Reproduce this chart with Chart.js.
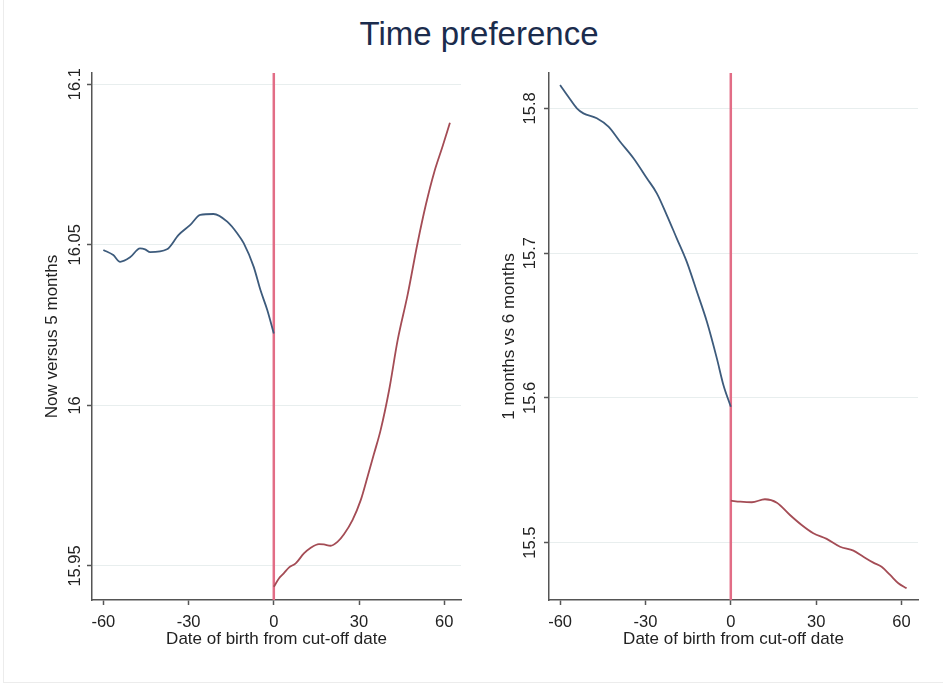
<!DOCTYPE html>
<html>
<head>
<meta charset="utf-8">
<script src="https://cdn.jsdelivr.net/npm/chart.js@4.4.1/dist/chart.umd.min.js"></script>
<style>
html, body { margin: 0; padding: 0; background: #fff; }
#wrap { position: relative; width: 943px; height: 687px; overflow: hidden; }
#frame { position: absolute; left: 3px; top: -2px; width: 945px; height: 685px; border: 1px solid #ececec; box-sizing: border-box; }
canvas { position: absolute; left: 0; top: 0; }
#title { position: absolute; left: 479px; top: 17px; transform: translateX(-50%); font: 33px "Liberation Sans", Arial, sans-serif; line-height: 33px; color: #1b2c4d; white-space: nowrap; }
</style>
</head>
<body>
<div id="wrap">
<div id="frame"></div>
<div id="title">Time preference</div>
<canvas id="left" width="943" height="687"></canvas>
<canvas id="right" width="943" height="687"></canvas>
</div>
<script>
// cut-off at day 0
let cutoff = 0;

// x ticks shared by both panels
let xTicks = [-60, -30, 0, 30, 60];

// panel 1: now versus 5 months
let leftYTicks = [15.95, 16, 16.05, 16.1];
let leftBelowX = [-60, -56.5, -54.1, -50.6, -47.1, -45.3, -43.5, -37.6, -33.5, -29.4, -25.9, -21.2, -16.4, -12.9, -10.6, -7.1, -4.7, -2.3, 0];
let leftBelowY = [16.0484, 16.0468, 16.0447, 16.0461, 16.0489, 16.0486, 16.0477, 16.0486, 16.0531, 16.0562, 16.0593, 16.0596, 16.0572, 16.0536, 16.0505, 16.0432, 16.0359, 16.0297, 16.0224];
let leftAboveX = [0, 1.8, 3.5, 5.3, 7.7, 10.6, 12.9, 15.9, 17.6, 20, 22.4, 24.7, 27.7, 30.6, 33, 35.3, 37.6, 40.6, 43.6, 47.1, 50.6, 53.5, 56.5, 59.4, 62];
let leftAboveY = [15.9435, 15.9461, 15.9477, 15.9495, 15.9508, 15.9539, 15.9556, 15.9568, 15.9567, 15.9563, 15.9575, 15.9599, 15.9643, 15.9705, 15.9778, 15.9850, 15.9923, 16.0048, 16.0203, 16.0344, 16.0505, 16.0624, 16.0727, 16.0806, 16.0880];

// panel 2: 1 months vs 6 months
let rightYTicks = [15.5, 15.6, 15.7, 15.8];
let rightBelowX = [-60, -57.1, -54.1, -51.8, -47.1, -43, -38.9, -34.2, -29.5, -26, -22.5, -19, -15.5, -11.9, -8.4, -4.9, -2.6, 0];
let rightBelowY = [15.8161, 15.8080, 15.8000, 15.7965, 15.7931, 15.7873, 15.7769, 15.7655, 15.7517, 15.7413, 15.7263, 15.7102, 15.6941, 15.6733, 15.6526, 15.6273, 15.6089, 15.5939];
let rightAboveX = [0, 3.3, 7.4, 12, 16.2, 20.8, 24.9, 29, 33.7, 38.4, 43.1, 46.6, 50.1, 53, 56, 58.9, 61.8];
let rightAboveY = [15.5290, 15.5283, 15.5279, 15.5300, 15.5276, 15.5191, 15.5122, 15.5065, 15.5026, 15.4972, 15.4945, 15.4903, 15.4862, 15.4834, 15.4777, 15.4720, 15.4685];

const FONT = '"Liberation Sans", Arial, sans-serif';
Chart.defaults.font.family = FONT;
Chart.defaults.color = "#222";

function pts(xs, ys){
return xs.map((x, i) => ({x: x, y: ys[i]}));
}

// vertical line at the cut-off
const cutoffLine = {
id: "cutoffLine",
beforeDatasetsDraw(chart){
const {ctx, chartArea, scales} = chart;
const px = scales.x.getPixelForValue(cutoff);
ctx.save();
ctx.strokeStyle = "#e26d86";
ctx.lineWidth = 2.5;
ctx.beginPath();
ctx.moveTo(px, chartArea.top);
ctx.lineTo(px, chartArea.bottom);
ctx.stroke();
ctx.restore();
}
};

// stata style y labels, turned to read upwards
const upTicks = {
id: "upTicks",
afterDraw(chart, args, opts){
const y = chart.scales.y;
const ctx = chart.ctx;
ctx.save();
ctx.font = "16.5px " + FONT;
ctx.fillStyle = "#222";
ctx.textAlign = "center";
ctx.textBaseline = "alphabetic";
y.ticks.forEach(t => {
ctx.save();
ctx.translate(y.right - opts.gap, y.getPixelForValue(t.value));
ctx.rotate(-Math.PI / 2);
ctx.fillText(String(t.value), 0, 0);
ctx.restore();
});
ctx.restore();
}
};

function panel(id, p){
return new Chart(document.getElementById(id), {
type: "line",
data: {
datasets: [
{ data: pts(p.belowX, p.belowY), borderColor: "#3d5b7c", borderWidth: 1.8, pointRadius: 0, cubicInterpolationMode: "monotone" },
{ data: pts(p.aboveX, p.aboveY), borderColor: "#a44c55", borderWidth: 1.8, pointRadius: 0, cubicInterpolationMode: "monotone" }
]
},
options: {
responsive: false,
animation: false,
events: [],
layout: { padding: { left: p.padLeft, right: p.padRight, top: 73, bottom: 0 } },
plugins: {
legend: { display: false },
tooltip: { enabled: false },
upTicks: { gap: p.labelGap }
},
scales: {
x: {
type: "linear",
min: p.xMin, max: p.xMax,
afterBuildTicks: s => { s.ticks = xTicks.map(v => ({value: v})); },
afterFit: s => { s.height = 87; },
border: { color: "#555", width: 1.5 },
grid: { drawOnChartArea: false, tickLength: 5, tickColor: "#555", tickWidth: 1.5 },
ticks: { font: { size: 16.5 }, padding: 8, color: "#222", maxRotation: 0, callback: v => String(v) },
title: { display: true, text: "Date of birth from cut-off date", font: { size: 17 }, color: "#222", padding: { top: 0, bottom: 37 } }
},
y: {
min: p.yMin, max: p.yMax,
afterBuildTicks: s => { s.ticks = p.yTicks.map(v => ({value: v})); },
afterFit: s => { s.width = p.yWidth; },
border: { color: "#555", width: 1.5 },
grid: { color: "#e8eeee", lineWidth: 1, tickLength: 5, tickColor: "#555", tickWidth: 1.5 },
ticks: { display: false },
title: { display: true, text: p.yTitle, font: { size: 17 }, color: "#222", padding: { top: p.titlePad, bottom: 0 } }
}
}
},
plugins: [cutoffLine, upTicks]
});
}

panel("left", {
belowX: leftBelowX, belowY: leftBelowY, aboveX: leftAboveX, aboveY: leftAboveY,
yTicks: leftYTicks, yMin: 15.9394, yMax: 16.1035, xMin: -64, xMax: 65.9,
padLeft: 0, padRight: 482, yWidth: 92, titlePad: 42, labelGap: 12,
yTitle: "Now versus 5 months"
});

panel("right", {
belowX: rightBelowX, belowY: rightBelowY, aboveX: rightAboveX, aboveY: rightAboveY,
yTicks: rightYTicks, yMin: 15.4604, yMax: 15.8244, xMin: -63.9, xMax: 65.8,
padLeft: 470, padRight: 25, yWidth: 79, titlePad: 29, labelGap: 14,
yTitle: "1 months vs 6 months"
});
</script>
</body>
</html>
